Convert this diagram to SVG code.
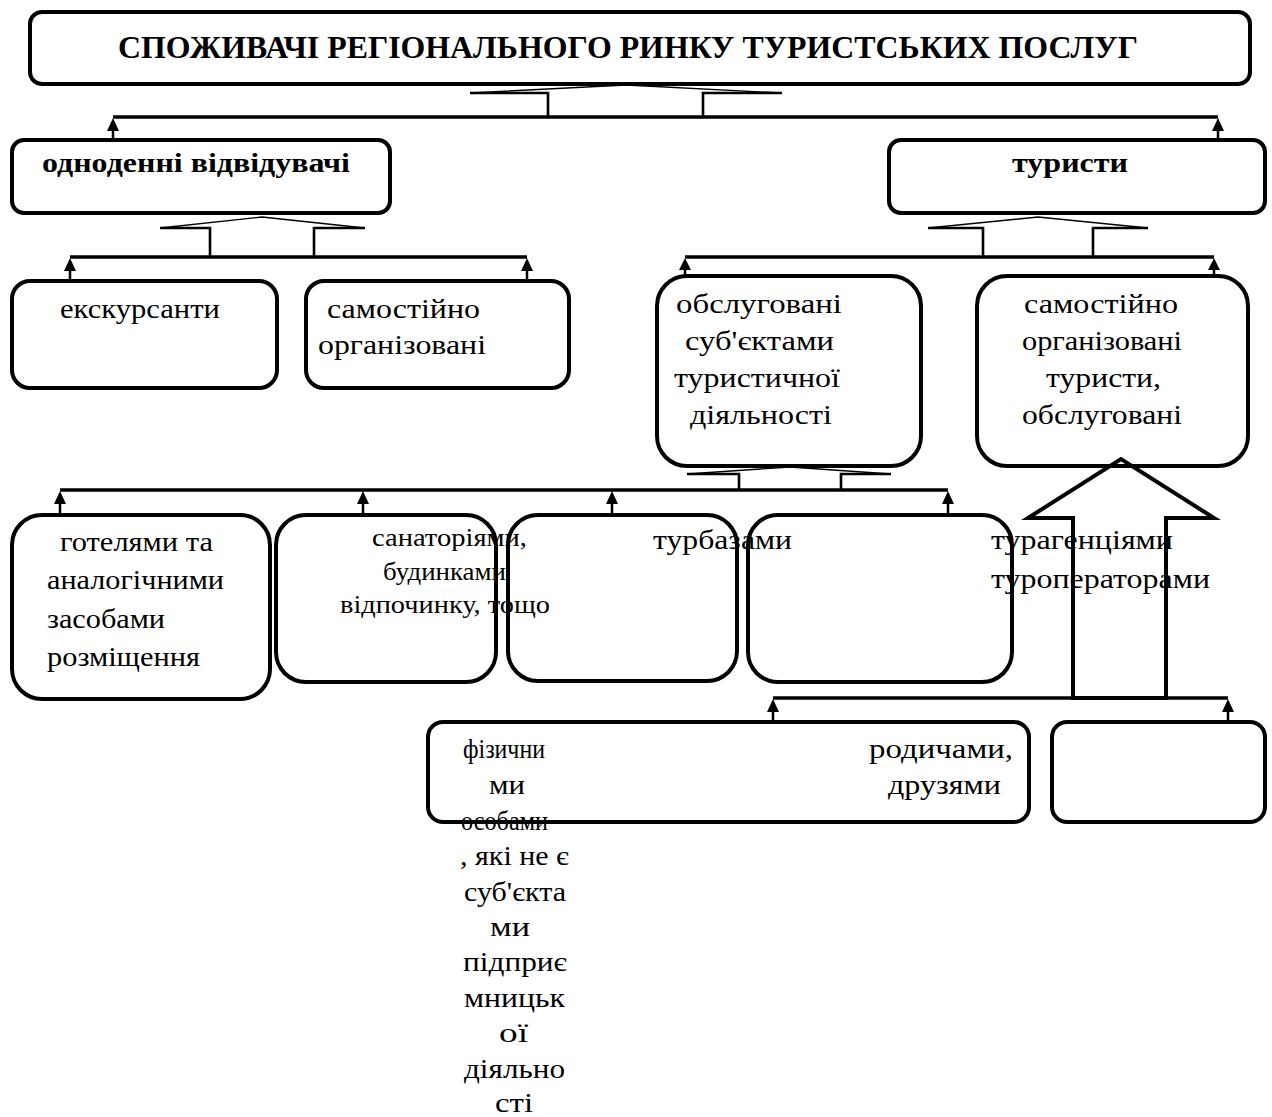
<svg xmlns="http://www.w3.org/2000/svg" width="1272" height="1117" viewBox="0 0 1272 1117">
<style>
text{fill:#000;font-family:"Liberation Serif","Times New Roman",serif}
.t{font-size:28px}
.s{font-size:25px}
.b{font-size:27px;font-weight:bold}
.h{font-size:32px;font-weight:bold}
.box{fill:none;stroke:#000;stroke-width:4}
.bar{fill:none;stroke:#000;stroke-width:3.5}
.stem{fill:none;stroke:#000;stroke-width:2.5}
.wbase{fill:none;stroke:#000;stroke-width:2.6;stroke-linejoin:miter}
.wdiag{fill:none;stroke:#000;stroke-width:1.4}
.big{fill:none;stroke:#000;stroke-width:4;stroke-linejoin:miter}
.ahd{fill:#000;stroke:none}
</style>
<rect width="1272" height="1117" fill="#fff"/>

<g id="title">
<text class="h" x="118" y="58" textLength="1020" lengthAdjust="spacingAndGlyphs">СПОЖИВАЧІ РЕГІОНАЛЬНОГО РИНКУ ТУРИСТСЬКИХ ПОСЛУГ</text>
<rect class="box" x="30" y="12" width="1220" height="72" rx="12"/>
</g>

<g id="odnodenni">
<text class="b" x="42" y="172" textLength="308" lengthAdjust="spacingAndGlyphs">одноденні відвідувачі</text>
<rect class="box" x="12" y="140" width="378" height="73" rx="12"/>
</g>

<g id="turysty">
<text class="b" x="1012" y="172" textLength="116" lengthAdjust="spacingAndGlyphs">туристи</text>
<rect class="box" x="889" y="140" width="376" height="73" rx="12"/>
</g>

<g id="ekskursanty">
<text class="t" x="60" y="318" textLength="160" lengthAdjust="spacingAndGlyphs">екскурсанти</text>
<rect class="box" x="12" y="281" width="265" height="107" rx="18"/>
</g>

<g id="samostiyno1">
<text class="t" x="327" y="318" textLength="153" lengthAdjust="spacingAndGlyphs">самостійно</text>
<text class="t" x="318" y="354" textLength="168" lengthAdjust="spacingAndGlyphs">організовані</text>
<rect class="box" x="306" y="281" width="263" height="107" rx="18"/>
</g>

<g id="obslugovani">
<text class="t" x="676" y="313" textLength="166" lengthAdjust="spacingAndGlyphs">обслуговані</text>
<text class="t" x="685" y="350" textLength="149" lengthAdjust="spacingAndGlyphs">суб'єктами</text>
<text class="t" x="674" y="387" textLength="166" lengthAdjust="spacingAndGlyphs">туристичної</text>
<text class="t" x="690" y="424" textLength="142" lengthAdjust="spacingAndGlyphs">діяльності</text>
<rect class="box" x="657" y="276" width="264" height="190" rx="30"/>
</g>

<g id="samostiyno2">
<text class="t" x="1024" y="313" textLength="154" lengthAdjust="spacingAndGlyphs">самостійно</text>
<text class="t" x="1022" y="350" textLength="160" lengthAdjust="spacingAndGlyphs">організовані</text>
<text class="t" x="1046" y="387" textLength="115" lengthAdjust="spacingAndGlyphs">туристи,</text>
<text class="t" x="1022" y="424" textLength="160" lengthAdjust="spacingAndGlyphs">обслуговані</text>
<rect class="box" x="977" y="276" width="271" height="190" rx="30"/>
</g>

<g id="hotel">
<text class="t" x="60" y="551" textLength="153" lengthAdjust="spacingAndGlyphs">готелями та</text>
<text class="t" x="47" y="589" textLength="177" lengthAdjust="spacingAndGlyphs">аналогічними</text>
<text class="t" x="47" y="628" textLength="118" lengthAdjust="spacingAndGlyphs">засобами</text>
<text class="t" x="47" y="666" textLength="153" lengthAdjust="spacingAndGlyphs">розміщення</text>
<rect class="box" x="12" y="515" width="258" height="184" rx="30"/>
</g>

<g id="sanatorii">
<text class="s" x="372" y="546" textLength="155" lengthAdjust="spacingAndGlyphs">санаторіями,</text>
<text class="s" x="383" y="580" textLength="123" lengthAdjust="spacingAndGlyphs">будинками</text>
<text class="s" x="340" y="613" textLength="210" lengthAdjust="spacingAndGlyphs">відпочинку, тощо</text>
<rect class="box" x="276" y="515" width="220" height="167" rx="30"/>
</g>

<g id="turbazy">
<text class="t" x="653" y="549" textLength="139" lengthAdjust="spacingAndGlyphs">турбазами</text>
<rect class="box" x="508" y="515" width="229" height="166" rx="30"/>
</g>

<g id="turagentsii">
<text class="t" x="991" y="549" textLength="182" lengthAdjust="spacingAndGlyphs">турагенціями</text>
<text class="t" x="991" y="588" textLength="219" lengthAdjust="spacingAndGlyphs">туроператорами</text>
<rect class="box" x="748" y="515" width="264" height="167" rx="30"/>
</g>

<g id="fizychni">
<text class="t" x="463" y="758" textLength="82" lengthAdjust="spacingAndGlyphs">фізични</text>
<text class="t" x="489" y="794" textLength="36" lengthAdjust="spacingAndGlyphs">ми</text>
<text class="t" x="461" y="830" textLength="87" lengthAdjust="spacingAndGlyphs">особами</text>
<text class="t" x="460" y="865" textLength="109" lengthAdjust="spacingAndGlyphs">, які не є</text>
<text class="t" x="464" y="901" textLength="102" lengthAdjust="spacingAndGlyphs">суб'єкта</text>
<text class="t" x="490" y="936" textLength="40" lengthAdjust="spacingAndGlyphs">ми</text>
<text class="t" x="463" y="971" textLength="104" lengthAdjust="spacingAndGlyphs">підприє</text>
<text class="t" x="464" y="1007" textLength="101" lengthAdjust="spacingAndGlyphs">мницьк</text>
<text class="t" x="499" y="1042" textLength="29" lengthAdjust="spacingAndGlyphs">ої</text>
<text class="t" x="464" y="1078" textLength="101" lengthAdjust="spacingAndGlyphs">діяльно</text>
<text class="t" x="495" y="1112" textLength="38" lengthAdjust="spacingAndGlyphs">сті</text>
<text class="t" x="869" y="758" textLength="144" lengthAdjust="spacingAndGlyphs">родичами,</text>
<text class="t" x="888" y="794" textLength="113" lengthAdjust="spacingAndGlyphs">друзями</text>
<rect class="box" x="428" y="722" width="601" height="100" rx="15"/>
</g>

<g id="empty">
<rect class="box" x="1052" y="722" width="213" height="100" rx="15"/>
</g>

<g id="connectors">
<path class="wbase" d="M548,117 V93 H470 M703,117 V93 H782"/>
<path class="wdiag" d="M470,93 L626,85 L782,93"/>
<line class="bar" x1="113" y1="117" x2="1218" y2="117"/>
<line class="stem" x1="113" y1="140" x2="113" y2="128"/>
<line class="stem" x1="1218" y1="140" x2="1218" y2="128"/>
<path class="wbase" d="M210,257 V228 H160 M314,257 V228 H365"/>
<path class="wdiag" d="M160,228 L262,217 L365,228"/>
<line class="bar" x1="70" y1="257" x2="527" y2="257"/>
<line class="stem" x1="70" y1="281" x2="70" y2="268"/>
<line class="stem" x1="527" y1="281" x2="527" y2="268"/>
<path class="wbase" d="M983,257 V228 H928 M1093,257 V228 H1148"/>
<path class="wdiag" d="M928,228 L1038,217 L1148,228"/>
<line class="bar" x1="685" y1="257" x2="1214" y2="257"/>
<line class="stem" x1="685" y1="276" x2="685" y2="268"/>
<line class="stem" x1="1214" y1="276" x2="1214" y2="268"/>
<path class="wbase" d="M739,490 V474 H687 M841,490 V474 H891"/>
<path class="wdiag" d="M687,474 L790,467 L891,474"/>
<line class="bar" x1="60" y1="490" x2="948" y2="490"/>
<line class="stem" x1="60" y1="515" x2="60" y2="502"/>
<line class="stem" x1="363" y1="515" x2="363" y2="502"/>
<line class="stem" x1="612" y1="515" x2="612" y2="502"/>
<line class="stem" x1="948" y1="515" x2="948" y2="502"/>
<polygon class="big" points="1073,698 1073,518 1028,518 1121,459 1214,518 1166,518 1166,698"/>
<line class="bar" x1="773" y1="698" x2="1228" y2="698"/>
<line class="stem" x1="773" y1="722" x2="773" y2="710"/>
<line class="stem" x1="1228" y1="722" x2="1228" y2="710"/>
<path class="ahd" d="M113,118 L107,131 L119,131 Z M1218,118 L1212,131 L1224,131 Z M70,258 L64,271 L76,271 Z M527,258 L521,271 L533,271 Z M685,258 L679,270 L691,270 Z M1214,258 L1208,270 L1220,270 Z M60,491 L54,504 L66,504 Z M363,491 L357,504 L369,504 Z M612,491 L606,504 L618,504 Z M948,491 L942,504 L954,504 Z M773,699 L767,712 L779,712 Z M1228,699 L1222,712 L1234,712 Z"/>
</g>
</svg>
